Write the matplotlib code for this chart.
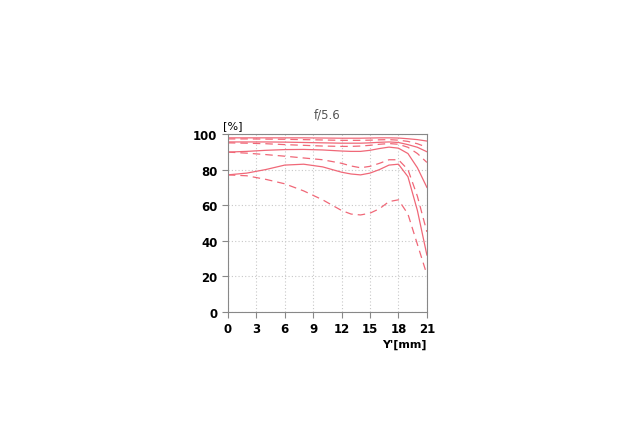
import matplotlib
matplotlib.use("Agg")
from matplotlib import pyplot as plt
import numpy as np

# image height position Y' [mm]
y_mm = [0, 2, 4, 6, 8, 10, 12, 13, 14, 15, 16, 17, 18, 19, 20, 21]

# MTF [%], solid = sagittal, dashed = meridional
sag_1 = [97.8, 97.8, 97.8, 97.8, 97.8, 97.7, 97.6, 97.6, 97.6, 97.7, 97.8, 97.8, 97.7, 97.3, 96.8, 96.0]
mer_1 = [97.2, 97.2, 97.1, 97.0, 96.8, 96.6, 96.4, 96.4, 96.4, 96.5, 96.7, 96.8, 96.5, 95.8, 94.5, 92.5]
sag_2 = [95.5, 95.5, 95.5, 95.4, 95.2, 95.0, 94.8, 94.8, 94.8, 95.0, 95.3, 95.5, 95.2, 94.0, 92.5, 90.0]
mer_2 = [95.0, 94.8, 94.5, 94.0, 93.6, 93.2, 93.0, 93.0, 93.2, 93.6, 94.2, 94.6, 94.2, 92.5, 89.0, 84.0]
sag_3 = [89.8, 90.2, 90.8, 91.2, 91.3, 91.0, 90.4, 90.2, 90.2, 90.8, 91.8, 92.6, 92.0, 89.0, 81.0, 70.0]
mer_3 = [89.8, 89.2, 88.4, 87.5, 86.5, 85.5, 83.5, 82.0, 81.0, 81.8, 83.5, 85.5, 85.5, 80.0, 65.0, 45.0]
sag_4 = [77.0, 78.0, 80.0, 82.5, 83.0, 81.5, 78.5, 77.5, 77.0, 78.0, 80.0, 82.5, 83.0, 76.0, 57.0, 32.0]
mer_4 = [77.0, 76.5, 74.5, 72.0, 68.0, 63.0, 57.0, 55.0, 54.5, 55.5, 58.0, 62.0, 63.0, 55.0, 38.0, 21.0]

xticks = [0, 3, 6, 9, 12, 15, 18, 21]
yticks = [0, 20, 40, 60, 80, 100]

red = "#f06878"

fig = plt.figure(figsize=(6.4, 4.27), dpi=100)
ax = fig.add_axes([0.356, 0.267, 0.311, 0.417])

for s in [sag_1, sag_2, sag_3, sag_4]:
    ax.plot(y_mm, s, color=red, lw=0.9)
for m in [mer_1, mer_2, mer_3, mer_4]:
    ax.plot(y_mm, m, color=red, lw=0.9, dashes=(6, 4))

ax.set_xlim(0, 21)
ax.set_ylim(0, 100)
ax.set_xticks(xticks)
ax.set_yticks(yticks)
ax.grid(True, color="#c8c8c8", ls=(0, (1, 2)), lw=0.8)
for sp in ax.spines.values():
    sp.set_color("#888888")
ax.tick_params(colors="#888888", labelcolor="black", length=4, width=0.8, labelsize=8.5)
for lab in ax.get_xticklabels() + ax.get_yticklabels():
    lab.set_fontweight("bold")

ax.set_title("f/5.6", fontsize=8.5, color="#555555", pad=12)
ax.text(-0.5, 102, "[%]", fontsize=8, ha="left", va="bottom")
ax.text(21, -15, "Y'[mm]", fontsize=8, fontweight="bold", ha="right", va="top")

fig.savefig("out.png", dpi=100)
